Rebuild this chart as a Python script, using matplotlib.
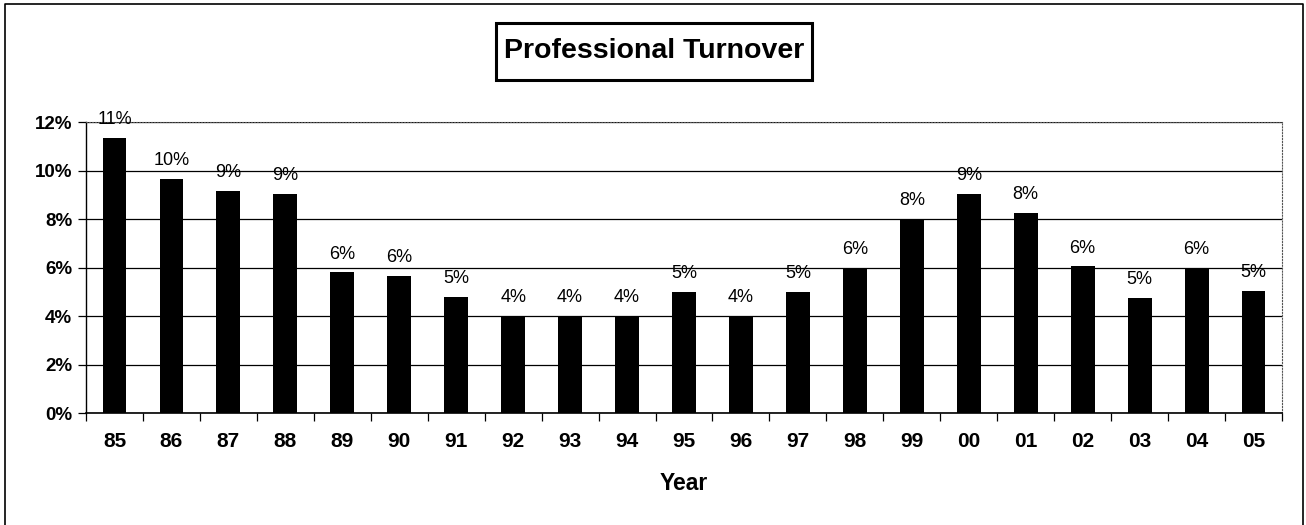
import numpy as np
import matplotlib.pyplot as plt
from matplotlib.lines import Line2D
from matplotlib.patches import Rectangle

plt.rcParams['font.family'] = ['Liberation Sans', 'DejaVu Sans']

##### DATEN #####
years = ['85', '86', '87', '88', '89', '90', '91', '92', '93', '94', '95',
         '96', '97', '98', '99', '00', '01', '02', '03', '04', '05']
turnover = [11.35, 9.65, 9.15, 9.05, 5.8, 5.65, 4.8, 4.0, 4.0, 4.0, 5.0,
            4.0, 5.0, 6.0, 8.0, 9.05, 8.25, 6.05, 4.75, 6.0, 5.05]
labels = ['11%', '10%', '9%', '9%', '6%', '6%', '5%', '4%', '4%', '4%', '5%',
          '4%', '5%', '6%', '8%', '9%', '8%', '6%', '5%', '6%', '5%']
yticks = [0, 2, 4, 6, 8, 10, 12]

##### PLOT #####
fig = plt.figure(figsize=(13.06, 5.25), dpi=100)
ax = fig.add_axes([0.0659, 0.2133, 0.9157, 0.5543])

x = np.arange(len(years))
ax.bar(x, turnover, width=0.42, color='black', zorder=3)

for xi, v, lab in zip(x, turnover, labels):
    ax.text(xi, v + 0.4, lab, ha='center', va='bottom', fontsize=13, zorder=4)

ax.set_xlim(-0.5, len(years) - 0.5)
ax.set_ylim(0, 12)
ax.set_yticks(yticks)
ax.set_yticklabels([f'{t}%' for t in yticks], fontsize=13.5, fontweight='bold')
ax.yaxis.grid(True, color='black', linewidth=0.9, zorder=0)
ax.tick_params(axis='y', length=6, width=0.9, pad=4)

ax.set_xticks(x)
ax.set_xticklabels(years, fontsize=15, fontweight='bold')
ax.set_xticks(np.arange(-0.5, len(years)), minor=True)
ax.tick_params(axis='x', which='major', length=0, pad=14)
ax.tick_params(axis='x', which='minor', length=6, width=0.9)

ax.set_xlabel('Year', fontsize=16.5, fontweight='bold', labelpad=15)

for s in ['top', 'right']:
    ax.spines[s].set_linestyle(':')
    ax.spines[s].set_color('#555555')
ax.spines['left'].set_linewidth(1.0)
ax.spines['bottom'].set_linewidth(1.2)

# Titel mit Kasten
fig.add_artist(Rectangle((0.3798, 0.8476), 0.242, 0.1086, transform=fig.transFigure,
                         facecolor='white', edgecolor='black', linewidth=2.2))
fig.text(0.5008, 0.903, 'Professional Turnover', ha='center', va='center',
         fontsize=20.5, fontweight='bold')

# Rahmen (links, oben, rechts)
fig.add_artist(Line2D([0.0035, 0.0035, 0.9975, 0.9975], [0.0, 0.9925, 0.9925, 0.0],
                      transform=fig.transFigure, color='black', linewidth=1.2))

plt.savefig('out.png', dpi=100)
